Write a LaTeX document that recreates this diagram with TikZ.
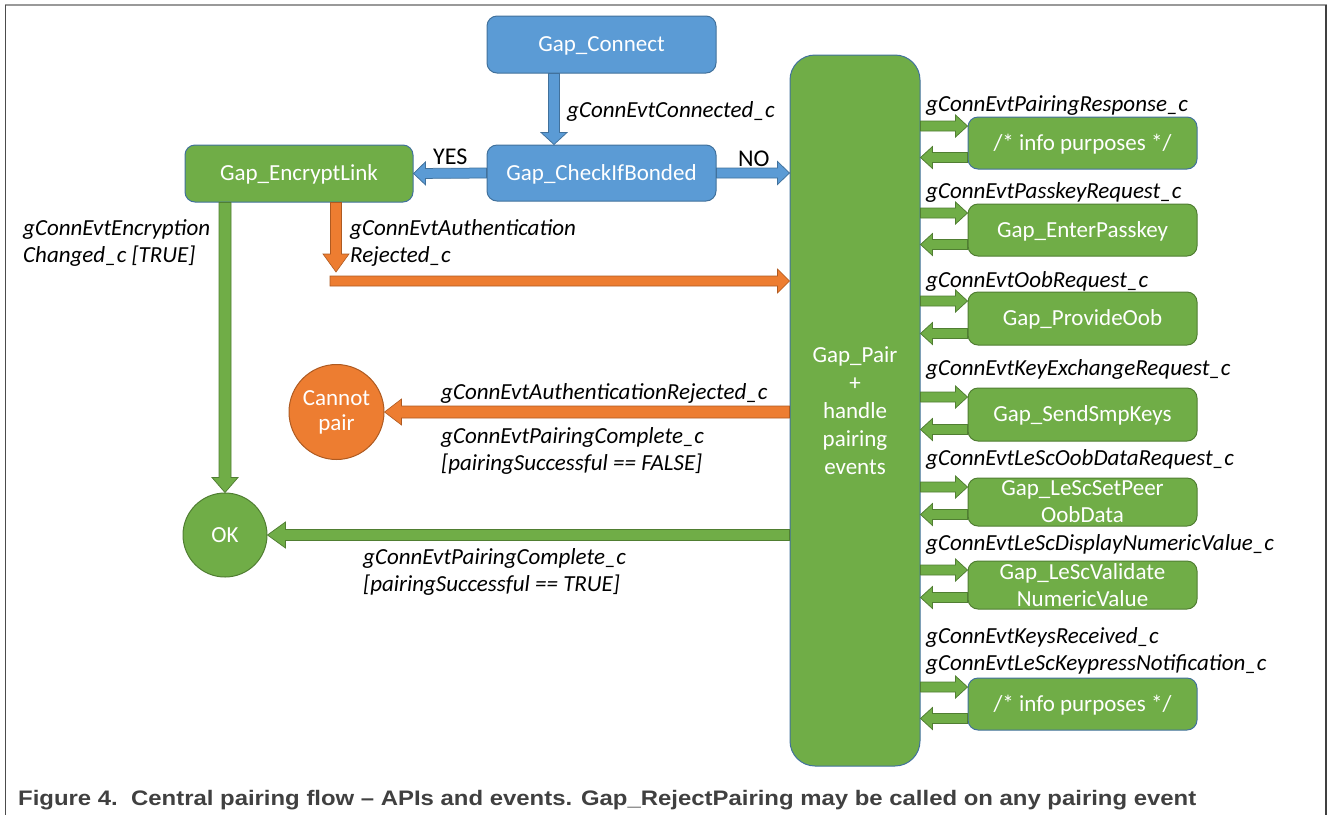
\documentclass[tikz,border=0pt]{standalone}
\usepackage{fontspec}
\setmainfont{Carlito}
\newfontfamily\capfont{Liberation Sans}
\usetikzlibrary{calc}
\definecolor{cblue}{HTML}{5B9BD5}
\definecolor{cblueD}{HTML}{41719C}
\definecolor{cgreen}{HTML}{70AD47}
\definecolor{cgreenD}{HTML}{507E32}
\definecolor{corange}{HTML}{ED7D31}
\definecolor{corangeD}{HTML}{AE5A21}
\definecolor{capgray}{HTML}{404040}

% block arrow from #2 to #3 (shaft half width, head half width, head length as keys)
\tikzset{
  bshaft/.store in=\bsw, bhead/.store in=\bhw, bheadlen/.store in=\bhl,
  bshaft=5.5pt, bhead=13pt, bheadlen=13pt,
}
\newcommand{\blockarrow}[3][]{%
  \filldraw[#1] let \p1=(#2), \p2=(#3),
     \n1={atan2(\y2-\y1,\x2-\x1)}, \n2={veclen(\x2-\x1,\y2-\y1)} in
     ($(\p1)+(\n1+90:\bsw)$) -- ++(\n1:{\n2-\bhl}) -- ++(\n1+90:{\bhw-\bsw}) -- (\p2)
     -- ($(\p2)+(\n1+180:\bhl)+(\n1-90:\bhw)$) -- ++(\n1+90:{\bhw-\bsw})
     -- ($(\p1)+(\n1-90:\bsw)$) -- cycle;}

\begin{document}
\begin{tikzpicture}[x=1pt,y=-1pt,
  box/.style={rounded corners=10pt, text=white, line width=1pt, inner sep=0pt,
    align=center, font=\fontsize{23}{27}\selectfont},
  oneline/.style={text height=18pt, text depth=3.5pt},
  bluebox/.style={box, fill=cblue, draw=cblueD},
  greenbox/.style={box, fill=cgreen, draw=cgreenD},
  greenboxb/.style={box, fill=cgreen, draw=cblueD},
  disc/.style={circle, inner sep=0pt, text=white, line width=1pt, align=center,
    font=\fontsize{23}{27}\selectfont},
  evt/.style={inner sep=0pt, anchor=base west, align=left,
    font=\fontsize{23}{27}\selectfont\itshape},
  ans/.style={inner sep=0pt, anchor=base west, font=\fontsize{24}{27}\selectfont},
  bluearrow/.style={fill=cblue, draw=cblueD, line width=0.75pt},
  greenarrow/.style={fill=cgreen, draw=cgreenD, line width=0.75pt},
  orangearrow/.style={fill=corange, draw=corangeD, line width=0.6pt},
  smallarrow/.style={greenarrow, bshaft=5pt, bhead=11pt, bheadlen=12pt},
]
\useasboundingbox (0,0) rectangle (1328,815);

% frame
\draw[black!40, line width=1.5pt] (5,5) -- (1327,5);
\draw[black!70, line width=1.2pt] (5.5,5) -- (5.5,815);
\draw[black!75, line width=2pt] (1326,5) -- (1326,815);

% main flow
\node[bluebox, oneline, minimum width=229, minimum height=57] (connect) at (601.5,44.5) {Gap\_Connect};
\node[bluebox, oneline, minimum width=229, minimum height=56] (bonded) at (601.5,173) {Gap\_CheckIfBonded};
\node[greenboxb, oneline, minimum width=228, minimum height=57] (encrypt) at (299,173.5) {Gap\_EncryptLink};
\node[greenboxb, rounded corners=25pt, minimum width=130, minimum height=711,
      font=\fontsize{23}{28}\selectfont] (pair) at (855,410.5)
      {Gap\_Pair\\+\\handle\\pairing\\events};
\node[disc, oneline, fill=cgreen, draw=cgreenD, minimum size=84] (ok) at (225,535) {OK};
\node[disc, fill=corange, draw=corangeD, minimum size=95] (fail) at (336.5,412)
      {\raisebox{-2pt}{Cannot}\\pair};

% right-hand event handlers
\node[greenboxb, oneline, minimum width=229, minimum height=52] (b1) at (1082.5,143) {/* info purposes */};
\node[greenbox, oneline, minimum width=229, minimum height=52] (b2) at (1082.5,230) {Gap\_EnterPasskey};
\node[greenbox, oneline, minimum width=229, minimum height=53] (b3) at (1082.5,318.5) {Gap\_ProvideOob};
\node[greenbox, oneline, minimum width=229, minimum height=53] (b4) at (1082.5,414.5) {Gap\_SendSmpKeys};
\node[greenbox, minimum width=229, minimum height=48] (b5) at (1082.5,502) {Gap\_LeScSetPeer\\OobData};
\node[greenbox, minimum width=229, minimum height=48] (b6) at (1082.5,585) {Gap\_LeScValidate\\NumericValue};
\node[greenboxb, oneline, minimum width=229, minimum height=52] (b7) at (1082.5,704) {/* info purposes */};

% connectors
\coordinate (cx) at (554,0);
\blockarrow[bluearrow, bheadlen=12pt]{connect.south -| cx}{bonded.north -| cx}
\blockarrow[bluearrow, bshaft=5pt, bhead=11.5pt, bheadlen=12pt]{bonded.west}{encrypt.east}
\blockarrow[bluearrow, bshaft=5pt, bhead=11.5pt, bheadlen=12pt]{bonded.east}{pair.west |- bonded.east}
\blockarrow[greenarrow, bshaft=6pt, bheadlen=15pt]{ok.north |- encrypt.south}{ok.north}
\coordinate (rjtip) at (336,272);
\coordinate (rjtail) at (330,281);
\blockarrow[orangearrow, bheadlen=18pt]{encrypt.south -| rjtip}{rjtip}
\blockarrow[orangearrow, bshaft=5pt, bhead=12pt, bheadlen=12pt]{rjtail}{pair.west |- rjtail}
\blockarrow[orangearrow, bshaft=6pt, bhead=13pt, bheadlen=17pt]{pair.west |- fail.east}{fail.east}
\blockarrow[greenarrow, bshaft=5.5pt, bhead=13pt, bheadlen=18pt]{pair.west |- ok.east}{ok.east}

\foreach \k in {1,...,7}{
  \coordinate (in\k) at ($(b\k.north west)+(0,9.5)$);
  \coordinate (out\k) at ($(b\k.south west)+(0,-12)$);
  \blockarrow[smallarrow]{pair.east |- in\k}{in\k}
  \blockarrow[smallarrow]{out\k}{pair.east |- out\k}
}

% labels (multi-line labels sit on the baseline of their last line)
\node[evt] (lconn) at (567,117) {gConnEvtConnected\_c};
\node[ans] (lyes) at (433,164) {YES};
\node[ans] (lno) at (738,166) {NO};
\node[evt] (lenc) at (23,262) {gConnEvtEncryption\\Changed\_c [TRUE]};
\node[evt] (lrej) at (350,262) {gConnEvtAuthentication\\Rejected\_c};
\node[evt] (lrej2) at (441,399) {gConnEvtAuthenticationRejected\_c};
\node[evt] (lfalse) at (441,470) {gConnEvtPairingComplete\_c\\{}[pairingSuccessful == FALSE]};
\node[evt] (ltrue) at (363,591) {gConnEvtPairingComplete\_c\\{}[pairingSuccessful == TRUE]};

\node[evt] (e1) at (926,111) {gConnEvtPairingResponse\_c};
\node[evt] (e2) at (926,198) {gConnEvtPasskeyRequest\_c};
\node[evt] (e3) at (926,287) {gConnEvtOobRequest\_c};
\node[evt] (e4) at (926,375) {gConnEvtKeyExchangeRequest\_c};
\node[evt] (e5) at (926,465) {gConnEvtLeScOobDataRequest\_c};
\node[evt] (e6) at (926,550) {gConnEvtLeScDisplayNumericValue\_c};
\node[evt] (e7) at (926,670) {gConnEvtKeysReceived\_c\\gConnEvtLeScKeypressNotification\_c};

% caption
\node[anchor=base west, inner sep=0pt, text=capgray,
      font=\capfont\bfseries\fontsize{21}{24}\selectfont] (caption) at (18,805)
  {\resizebox{1178pt}{\height}{Figure 4.\ \ Central pairing flow – APIs and events. Gap\_RejectPairing may be called on any pairing event}};
\end{tikzpicture}
\end{document}
